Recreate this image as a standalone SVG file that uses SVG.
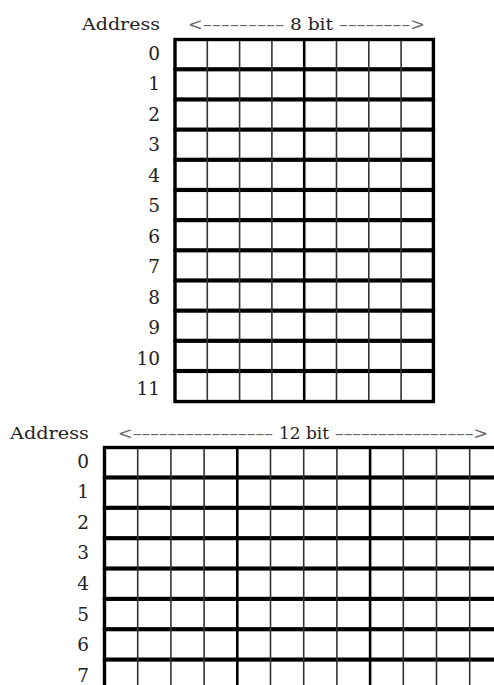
<svg xmlns="http://www.w3.org/2000/svg" width="494" height="685" viewBox="0 0 494 685">
<style>
text{font-family:"DejaVu Serif","Liberation Serif",serif;font-size:17.5px;fill:#222}
.num{text-anchor:end;font-size:18.5px}
.row{fill:#fff;stroke:#000;stroke-width:3.4}
.thin{stroke:#333;stroke-width:1.6}
.mid{stroke:#000;stroke-width:2.6}
.dash{fill:#666}
</style>
<rect width="494" height="685" fill="#fff"/>
<g id="memory-8bit">
  <text x="82" y="30" textLength="78" lengthAdjust="spacingAndGlyphs">Address</text>
  <text class="dash" x="188" y="30" textLength="96" lengthAdjust="spacing">&lt;–––––––––</text>
  <text x="290" y="30" textLength="43" lengthAdjust="spacingAndGlyphs">8 bit</text>
  <text class="dash" x="339" y="30" textLength="86" lengthAdjust="spacing">––––––––&gt;</text>
  <g id="rows8">
    <rect class="row" x="175" y="39.5" width="258.4" height="29.4"/>
    <rect class="row" x="175" y="69.67" width="258.4" height="29.4"/>
    <rect class="row" x="175" y="99.84" width="258.4" height="29.4"/>
    <rect class="row" x="175" y="130.01" width="258.4" height="29.4"/>
    <rect class="row" x="175" y="160.18" width="258.4" height="29.4"/>
    <rect class="row" x="175" y="190.35" width="258.4" height="29.4"/>
    <rect class="row" x="175" y="220.52" width="258.4" height="29.4"/>
    <rect class="row" x="175" y="250.69" width="258.4" height="29.4"/>
    <rect class="row" x="175" y="280.86" width="258.4" height="29.4"/>
    <rect class="row" x="175" y="311.03" width="258.4" height="29.4"/>
    <rect class="row" x="175" y="341.2" width="258.4" height="29.4"/>
    <rect class="row" x="175" y="371.37" width="258.4" height="30.17"/>
  </g>
  <g id="cols8">
    <line class="thin" x1="207.3" y1="41" x2="207.3" y2="400"/>
    <line class="thin" x1="239.6" y1="41" x2="239.6" y2="400"/>
    <line class="thin" x1="271.9" y1="41" x2="271.9" y2="400"/>
    <line class="mid" x1="304.2" y1="41" x2="304.2" y2="400"/>
    <line class="thin" x1="336.5" y1="41" x2="336.5" y2="400"/>
    <line class="thin" x1="368.8" y1="41" x2="368.8" y2="400"/>
    <line class="thin" x1="401.1" y1="41" x2="401.1" y2="400"/>
  </g>
  <g id="addr8">
    <text class="num" x="160" y="59.5">0</text>
    <text class="num" x="160" y="90">1</text>
    <text class="num" x="160" y="120.5">2</text>
    <text class="num" x="160" y="151">3</text>
    <text class="num" x="160" y="181.5">4</text>
    <text class="num" x="160" y="212">5</text>
    <text class="num" x="160" y="243">6</text>
    <text class="num" x="160" y="273">7</text>
    <text class="num" x="160" y="303.5">8</text>
    <text class="num" x="160" y="334">9</text>
    <text class="num" x="160" y="364.5">10</text>
    <text class="num" x="160" y="395">11</text>
  </g>
</g>
<g id="memory-12bit">
  <text x="10" y="438.5" textLength="79" lengthAdjust="spacingAndGlyphs">Address</text>
  <text class="dash" x="118" y="438.5" textLength="155" lengthAdjust="spacing">&lt;––––––––––––––––</text>
  <text x="279" y="438.5" textLength="50" lengthAdjust="spacingAndGlyphs">12 bit</text>
  <text class="dash" x="335" y="438.5" textLength="153" lengthAdjust="spacing">––––––––––––––––&gt;</text>
  <g id="rows12">
    <rect class="row" x="104.5" y="447.5" width="400" height="29.6"/>
    <rect class="row" x="104.5" y="477.85" width="400" height="29.6"/>
    <rect class="row" x="104.5" y="508.2" width="400" height="29.6"/>
    <rect class="row" x="104.5" y="538.55" width="400" height="29.6"/>
    <rect class="row" x="104.5" y="568.9" width="400" height="29.6"/>
    <rect class="row" x="104.5" y="599.25" width="400" height="29.6"/>
    <rect class="row" x="104.5" y="629.6" width="400" height="29.6"/>
    <rect class="row" x="104.5" y="659.95" width="400" height="30.35"/>
  </g>
  <g id="cols12">
    <line class="thin" x1="137.7" y1="449" x2="137.7" y2="690"/>
    <line class="thin" x1="170.9" y1="449" x2="170.9" y2="690"/>
    <line class="thin" x1="204.1" y1="449" x2="204.1" y2="690"/>
    <line class="mid" x1="237.3" y1="449" x2="237.3" y2="690"/>
    <line class="thin" x1="270.5" y1="449" x2="270.5" y2="690"/>
    <line class="thin" x1="303.7" y1="449" x2="303.7" y2="690"/>
    <line class="thin" x1="336.9" y1="449" x2="336.9" y2="690"/>
    <line class="mid" x1="370.1" y1="449" x2="370.1" y2="690"/>
    <line class="thin" x1="403.3" y1="449" x2="403.3" y2="690"/>
    <line class="thin" x1="436.5" y1="449" x2="436.5" y2="690"/>
    <line class="thin" x1="469.7" y1="449" x2="469.7" y2="690"/>
  </g>
  <g id="addr12">
    <text class="num" x="89" y="467.5">0</text>
    <text class="num" x="89" y="498">1</text>
    <text class="num" x="89" y="528.5">2</text>
    <text class="num" x="89" y="559">3</text>
    <text class="num" x="89" y="590">4</text>
    <text class="num" x="89" y="620.5">5</text>
    <text class="num" x="89" y="651">6</text>
    <text class="num" x="89" y="681.7">7</text>
  </g>
</g>
</svg>
